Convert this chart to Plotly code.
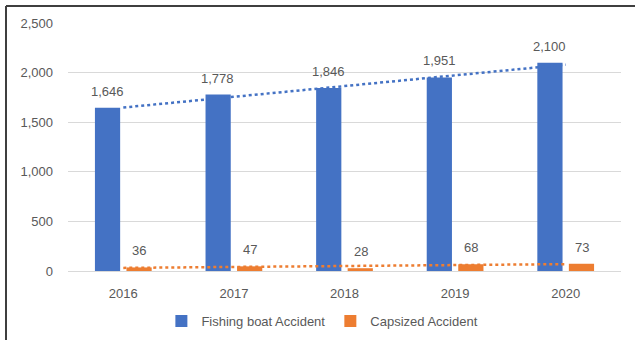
import numpy as np
import plotly.graph_objects as go

# Yearly accident counts
years = ["2016", "2017", "2018", "2019", "2020"]
fishing_boat = [1646, 1778, 1846, 1951, 2100]
capsized = [36, 47, 28, 68, 73]

BLUE = "#4472C4"
ORANGE = "#ED7D31"
TEXT = "#595959"
FONT = "Liberation Sans"

W, H = 635, 340
L, R, T, B = 68, 14, 23, 69
plot_w = W - L - R
plot_h = H - T - B


def trend(values):
    xs = np.arange(len(values))
    slope, intercept = np.polyfit(xs, values, 1)
    return [float(v) for v in slope * xs + intercept]


fig = go.Figure()
fig.add_trace(go.Bar(x=years, y=fishing_boat, name="Fishing boat Accident",
                     marker=dict(color=BLUE, line=dict(width=0))))
fig.add_trace(go.Bar(x=years, y=capsized, name="Capsized Accident",
                     marker=dict(color=ORANGE, line=dict(width=0))))

# Linear trendlines, drawn over the columns
for vals, col in ((fishing_boat, BLUE), (capsized, ORANGE)):
    fig.add_trace(go.Scatter(x=years, y=trend(vals), mode="lines",
                             line=dict(color=col, width=2.5, dash="dot"),
                             showlegend=False, hoverinfo="skip"))

# Value labels above each column (x given as category index)
annotations = []
for i, v in enumerate(fishing_boat):
    annotations.append(dict(x=i, y=v, xref="x", yref="y", text=f"{v:,}",
                            showarrow=False, xshift=-16, yshift=7, yanchor="bottom",
                            font=dict(family=FONT, size=13, color=TEXT)))
for i, v in enumerate(capsized):
    annotations.append(dict(x=i, y=v, xref="x", yref="y", text=f"{v:,}",
                            showarrow=False, xshift=16, yshift=7, yanchor="bottom",
                            font=dict(family=FONT, size=13, color=TEXT)))

# Frame lines along the top and left edges of the chart area
left_x = (6 - L) / plot_w
top_y = (H - B - 6) / plot_h
bottom_y = (H - B - H) / plot_h
shapes = [
    dict(type="line", xref="paper", yref="paper", x0=left_x, x1=(W - L) / plot_w,
         y0=top_y, y1=top_y, line=dict(color="#3F3F3F", width=2)),
    dict(type="line", xref="paper", yref="paper", x0=left_x, x1=left_x,
         y0=top_y, y1=bottom_y, line=dict(color="#3F3F3F", width=2)),
]

fig.update_layout(
    width=W, height=H,
    margin=dict(l=L, r=R, t=T, b=B, pad=0, autoexpand=False),
    paper_bgcolor="white", plot_bgcolor="white",
    barmode="group", bargap=0.43, bargroupgap=0.2,
    font=dict(family=FONT, size=13, color=TEXT),
    legend=dict(orientation="h", x=0.46, xanchor="center",
                yref="container", y=(H - 321) / H, yanchor="middle",
                font=dict(family=FONT, size=13, color=TEXT), itemwidth=30,
                traceorder="normal"),
    annotations=annotations,
    shapes=shapes,
)
fig.update_xaxes(type="category", range=[-0.5, len(years) - 0.5], showgrid=False,
                 showline=False, ticks="", ticklabelstandoff=13,
                 tickfont=dict(size=13, color=TEXT))
fig.update_yaxes(range=[0, 2500], dtick=500, tickformat=",", showgrid=True,
                 gridcolor="#D9D9D9", gridwidth=1, zeroline=True, zerolinecolor="#D9D9D9",
                 zerolinewidth=1, showline=False, ticks="", ticklabelstandoff=14,
                 tickfont=dict(size=13, color=TEXT))

fig.write_html("out.html")
